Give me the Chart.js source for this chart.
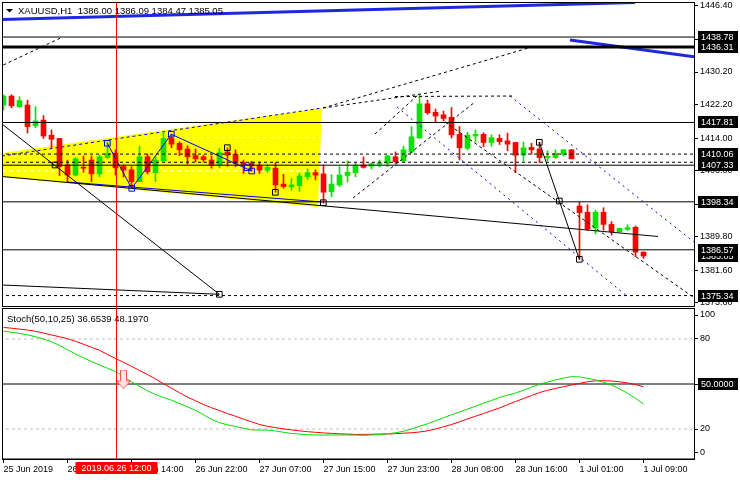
<!DOCTYPE html>
<html>
<head>
<meta charset="utf-8">
<script src="https://cdn.jsdelivr.net/npm/chart.js@4.4.1/dist/chart.umd.min.js"></script>
<style>
  html, body { margin: 0; padding: 0; background: #fff; }
  #wrap { position: relative; width: 740px; height: 480px; overflow: hidden; }
  canvas { position: absolute; left: 0; }
  #main { top: 0; }
  #stoch { top: 307px; }
</style>
</head>
<body>
<div id="wrap">
  <canvas id="main" width="740" height="308"></canvas>
  <canvas id="stoch" width="740" height="173"></canvas>
</div>
<script>
// XAUUSD H1, bar 0 = 25 Jun 20:00 ... bar 80 = 1 Jul 09:00
const opens  = [1422.1,1424.3,1421.7,1422.1,1417.0,1418.4,1414.7,1413.9,1407.4,1404.9,1406.8,1408.6,1405.2,1409.2,1410.3,1407.0,
                1406.2,1403.3,1409.4,1405.5,1408.4,1413.9,1412.7,1411.3,1409.7,1409.4,1408.6,1407.4,1410.6,1410.0,1408.0,1407.9,
                1407.2,1406.1,1406.6,1402.7,1402.0,1402.3,1404.5,1405.5,1405.2,1400.8,1402.5,1404.8,1405.5,1407.4,1407.1,1407.6,
                1407.8,1409.4,1408.4,1410.6,1414.0,1422.4,1420.3,1419.7,1419.1,1414.9,1411.5,1414.5,1414.9,1412.9,1413.9,1413.3,
                1412.9,1409.8,1411.7,1411.3,1409.2,1409.2,1410.0,1411.1,1397.3,1395.8,1391.9,1395.8,1392.8,1391.0,1391.6,1392.1,1386.00];
const highs  = [1424.6,1424.6,1424.1,1423.3,1421.7,1419.5,1416.0,1413.9,1408.6,1409.2,1409.6,1409.6,1409.8,1413.0,1411.1,1407.4,
                1407.0,1412.0,1410.1,1409.4,1415.2,1414.9,1413.1,1412.1,1411.3,1409.8,1409.6,1411.5,1411.6,1411.1,1408.6,1408.3,
                1408.1,1407.4,1408.0,1405.1,1404.1,1405.4,1406.4,1406.2,1407.4,1405.0,1407.0,1408.4,1407.8,1409.4,1407.9,1408.6,
                1409.8,1410.6,1412.0,1416.8,1424.6,1423.3,1421.1,1420.6,1421.5,1416.8,1415.4,1416.0,1415.3,1414.8,1414.8,1415.2,
                1413.0,1413.0,1412.7,1413.0,1410.9,1411.1,1411.2,1411.2,1398.2,1397.6,1396.3,1396.9,1393.5,1391.9,1392.7,1392.4,1386.09];
const lows   = [1420.9,1421.4,1421.5,1415.2,1416.5,1413.9,1411.6,1404.8,1403.3,1404.7,1405.6,1403.3,1404.5,1409.0,1404.9,1404.4,
                1401.8,1403.3,1405.2,1403.3,1408.4,1411.6,1409.7,1407.6,1408.1,1408.1,1406.6,1406.7,1407.1,1407.0,1405.3,1405.9,
                1405.3,1405.6,1400.7,1401.7,1401.2,1400.9,1403.8,1403.7,1398.0,1399.6,1402.1,1403.2,1404.5,1406.6,1406.4,1406.9,
                1407.0,1407.8,1408.2,1410.3,1414.0,1419.8,1418.0,1418.2,1414.0,1408.6,1411.1,1413.0,1411.9,1412.0,1412.4,1410.9,
                1405.5,1408.4,1410.0,1408.0,1408.4,1409.0,1409.6,1408.9,1384.2,1391.3,1390.5,1391.4,1390.2,1390.9,1391.3,1384.9,1384.47];
const closes = [1424.3,1421.9,1423.2,1416.8,1418.2,1414.5,1413.7,1407.0,1404.9,1408.9,1406.6,1405.2,1409.4,1410.3,1406.7,1406.1,
                1403.3,1409.4,1405.7,1408.6,1413.9,1412.5,1411.1,1409.4,1408.9,1408.7,1407.4,1410.4,1409.8,1407.8,1407.4,1407.2,
                1406.1,1406.8,1402.5,1402.1,1402.5,1404.7,1405.5,1404.9,1400.7,1402.7,1404.9,1405.6,1407.1,1406.8,1407.7,1407.9,
                1409.6,1408.2,1411.1,1414.3,1422.4,1420.2,1419.4,1418.8,1414.8,1411.6,1414.7,1414.9,1412.9,1414.1,1413.1,1412.5,
                1409.8,1411.6,1411.1,1409.2,1409.5,1410.25,1411.1,1408.9,1395.7,1391.7,1395.8,1392.8,1391.0,1391.8,1392.0,1386.0,1385.05];

// Stochastic(50,10,25): main (green) and signal (red)
const stochMain = [85.2,84.5,83.7,82.8,81.5,80,78.2,75.8,72.8,70,67.5,65,62.7,60.5,58.3,55,
                   51.5,48.5,45.5,43,41,39.2,37,34.8,32.5,29.5,26.5,24.2,22.8,21.7,20.5,19.4,
                   19.3,19.3,18.7,17.8,17,16.6,16.2,16,16,16,16,16,15.9,15.8,16,16.3,
                   16.8,17.5,18.5,20,21.8,23.5,25.5,27.5,29.5,31.3,33.3,35.2,37.2,39,41,42.6,
                   44,45.8,48,49.7,51.3,52.7,54,54.9,54.7,53.8,52.7,51.2,49.4,46.8,43.8,40.5,36.6539];
const stochSignal = [87.7,87.2,86.6,86,85.1,84,82.7,81.5,80.2,78.5,76.5,74.5,72.5,69.7,67,64.5,
                     61.8,59,56.3,53.4,50.2,47.2,44.2,41.3,38.8,36.3,34.2,32.3,30.3,28.5,26.6,24.8,
                     23,21.8,20.9,20.1,19.4,18.8,18.2,17.8,17.4,17.1,16.8,16.6,16.4,16.4,16.5,16.6,
                     16.7,16.9,17.2,17.5,18,18.8,20,21.5,23,24.8,26.7,28.5,30.3,32.2,34,36.2,
                     38.3,40.3,42.3,44.3,45.8,47,48.2,49.3,50.4,51.5,52.1,52.2,52,51.5,50.7,49.6,48.197];

const priceTicks = [1446.40,1438.20,1430.20,1422.20,1414.00,1406.00,1397.80,1389.80,1381.60,1373.60];
const priceBoxes = [1385.05,1438.78,1436.31,1417.81,1410.06,1407.33,1398.34,1375.34,1386.57];
const stochTicks = [100,80,50,20,0];
const xTickBars = [0,8,16,24,32,40,48,56,64,72,80];
const xTickLabels = ['25 Jun 2019','26 Jun 06:00','26 Jun 14:00','26 Jun 22:00','27 Jun 07:00','27 Jun 15:00',
                     '27 Jun 23:00','28 Jun 08:00','28 Jun 16:00','1 Jul 01:00','1 Jul 09:00'];
const cursorBar = 14;
const cursorLabel = '2019.06.26 12:00';
const signalArrow = [15, 53];

// drawn objects, as [bar, price]
const levelsThin = [1438.78, 1417.81, 1407.33, 1398.34, 1386.57];
const levelThick = 1436.31;
const levelsDashed = [1410.06, 1408.05, 1375.34];
const wedgeTop = [[-0.19,1443.09],[78.94,1447.26]];
const wedgeRight = [[70.81,1438.06],[86.31,1433.96]];
const trendLong = [[-0.19,1404.56],[81.81,1389.84]];
const trendDiag = [[-0.19,1417.44],[26.98,1375.65]];
const trendLow = [[-0.19,1377.93],[26.98,1375.65]];
const trendSteep = [[66.98,1412.95],[71.98,1384.24]];
const triangle = [[-12.9,1406.82],[39.81,1421.37],[39.31,1397.08],[-12.9,1406.82]];
const fibWhite = [[[15.8,1414.13],[39.56,1414.13]], [[-0.19,1405.91],[39.31,1405.91]]];
const blueEdgeTop = [[-0.19,1409.59],[39.81,1421.37]];
const blueEdgeLow = [[7.94,1403.21],[39.81,1398.30]];
const blueZig = [[12.98,1412.71],[16.03,1401.66],[20.98,1414.92],[31.03,1405.91]];
const dashedBlack = [
  [[-0.03,1431.92],[7.06,1438.47]],
  [[39.94,1421.37],[66.06,1436.34]],
  [[39.94,1421.37],[54.81,1425.54]],
  [[48.94,1424.19],[63.69,1424.31]],
  [[55.19,1417.93],[86.19,1374.99]],
  [[46.44,1414.99],[51.81,1424.56]],
  [[43.69,1399.28],[58.94,1422.85]]
];
const dottedBlue = [
  [[63.31,1424.31],[86.31,1388.49]],
  [[49.19,1421.62],[78.06,1374.99]]
];
const squaresBlack = [[6.44,1407.38],[26.98,1375.65],[39.98,1398.13],[33.98,1400.68],[27.98,1411.63],[66.98,1412.95],[69.48,1398.55],[71.98,1384.24]];
const squaresBlue = [[12.98,1412.71],[16.03,1401.66],[20.98,1414.92],[30.48,1406.72],[31.03,1405.91]];

const X_MIN = -0.1875, X_MAX = 86.3125;
const UP = '#00e600', DOWN = '#ff0000', BLUE = '#1e28dc';
const FONT = "'Liberation Sans', Arial, sans-serif";
Chart.defaults.font.family = FONT;
Chart.defaults.font.size = 9;
Chart.defaults.color = '#000';

function pts(a) { return a.map(p => ({x: p[0], y: p[1]})); }
function seg(a, color, width, dash, order) {
  return {type: 'line', data: pts(a), borderColor: color, borderWidth: width, borderDash: dash || [],
          pointRadius: 0, fill: false, tension: 0, order: order == null ? -1 : order};
}
function hline(p, color, width, dash, order) { return seg([[X_MIN - 1, p], [X_MAX + 1, p]], color, width, dash, order); }
// keep the plot area exactly where the layout puts it (no room for label overflow)
function noOverflow(s) { s.paddingTop = 0; s.paddingBottom = 0; s.paddingLeft = 0; s.paddingRight = 0; }

const isUp = closes.map((c, i) => c >= opens[i]);
const candleColors = isUp.map(u => u ? UP : DOWN);

const mainSets = [
  {type: 'line', data: pts(triangle), fill: 'shape', backgroundColor: '#ffff00', borderWidth: 0, pointRadius: 0, tension: 0, order: 30},
  ...fibWhite.map(a => seg(a, '#ffffff', 1, [4, 3], 25)),
  {type: 'bar', data: highs.map((h, i) => ({x: i, y: [lows[i], h]})), backgroundColor: candleColors,
   barThickness: 1, grouped: false, borderWidth: 0, minBarLength: 1, order: 2},
  {type: 'bar', data: opens.map((o, i) => ({x: i, y: [o, closes[i]]})), backgroundColor: candleColors,
   barThickness: 5, grouped: false, borderWidth: 0, minBarLength: 1, order: 1},
  ...levelsThin.map(p => hline(p, '#000', 1)),
  hline(levelThick, '#000', 3),
  ...levelsDashed.map(p => hline(p, '#000', 1, [3, 3])),
  seg(wedgeTop, BLUE, 3), seg(wedgeRight, BLUE, 3),
  seg(trendLong, '#000', 1), seg(trendDiag, '#000', 1), seg(trendLow, '#000', 1), seg(trendSteep, '#000', 1),
  seg(blueEdgeTop, '#0000ff', 1, [3, 3]), seg(blueEdgeLow, '#0000ff', 1), seg(blueZig, '#0000ff', 1),
  ...dashedBlack.map(a => seg(a, '#000', 1, [3, 3])),
  ...dottedBlue.map(a => seg(a, '#0000ff', 1, [2, 4])),
  {type: 'line', data: pts(squaresBlack), showLine: false, pointStyle: 'rect', pointRadius: 4,
   pointBorderColor: '#000', pointBackgroundColor: 'rgba(0,0,0,0)', pointBorderWidth: 1, order: -2},
  {type: 'line', data: pts(squaresBlue), showLine: false, pointStyle: 'rect', pointRadius: 4,
   pointBorderColor: '#0000ff', pointBackgroundColor: 'rgba(0,0,0,0)', pointBorderWidth: 1, order: -2}
];

function drawBox(ctx, x, y, w, txt, bg, fg, align) {
  ctx.fillStyle = bg;
  ctx.fillRect(x, Math.round(y) - 6, w, 12);
  ctx.fillStyle = fg;
  ctx.textBaseline = 'middle';
  ctx.textAlign = align || 'left';
  ctx.fillText(txt, align === 'center' ? x + w / 2 : x + 3, Math.round(y) + 0.5);
}

const mainDeco = {
  id: 'mainDeco',
  afterDraw(chart) {
    const {ctx, chartArea: a, scales} = chart;
    ctx.save();
    ctx.strokeStyle = '#000'; ctx.lineWidth = 1;
    ctx.strokeRect(a.left + 0.5, a.top + 0.5, a.right - a.left, a.bottom - a.top);
    const cx = Math.round(scales.x.getPixelForValue(cursorBar)) + 0.5;
    ctx.strokeStyle = '#ff0000';
    ctx.beginPath(); ctx.moveTo(cx, a.top); ctx.lineTo(cx, chart.height); ctx.stroke();
    // symbol title
    ctx.fillStyle = '#000';
    ctx.beginPath(); ctx.moveTo(6, 9); ctx.lineTo(13, 9); ctx.lineTo(9.5, 12.5); ctx.closePath(); ctx.fill();
    ctx.font = '9.5px ' + FONT;
    ctx.textBaseline = 'middle'; ctx.textAlign = 'left';
    ctx.fillText('XAUUSD,H1  ' + [opens[80], highs[80], lows[80], closes[80]].map(v => v.toFixed(2)).join(' '), 18, 11);
    ctx.font = '9px ' + FONT;
    priceBoxes.forEach(p => drawBox(ctx, 698, scales.y.getPixelForValue(p), 40, p.toFixed(2), '#000', '#fff'));
    ctx.restore();
  }
};

new Chart(document.getElementById('main'), {
  type: 'bar',
  data: {datasets: mainSets},
  options: {
    responsive: false, animation: false, events: [],
    layout: {autoPadding: false, padding: {left: 2, top: 2, right: 0, bottom: 2}},
    plugins: {legend: {display: false}, tooltip: {enabled: false}},
    scales: {
      x: {type: 'linear', min: X_MIN, max: X_MAX, offset: false, display: false},
      y: {type: 'linear', position: 'right', min: 1372.78, max: 1447.38,
          afterFit: s => { s.width = 46; noOverflow(s); },
          afterBuildTicks: s => { s.ticks = priceTicks.map(v => ({value: v})); },
          ticks: {callback: v => v.toFixed(2), padding: 2, autoSkip: false},
          grid: {drawOnChartArea: false, tickLength: 4, color: '#000'},
          border: {color: '#000'}}
    }
  },
  plugins: [mainDeco]
});

// hollow down arrow used as the signal marker
const arrowImg = document.createElement('canvas');
arrowImg.width = 15; arrowImg.height = 20;
(function () {
  const c = arrowImg.getContext('2d');
  c.beginPath();
  c.moveTo(4.5, 0.5); c.lineTo(10.5, 0.5); c.lineTo(10.5, 11.5); c.lineTo(14.5, 11.5);
  c.lineTo(7.5, 19); c.lineTo(0.5, 11.5); c.lineTo(4.5, 11.5); c.closePath();
  c.fillStyle = '#ffe4e4'; c.fill();
  c.strokeStyle = '#ff5050'; c.lineWidth = 1; c.stroke();
})();

const stochDeco = {
  id: 'stochDeco',
  afterDraw(chart) {
    const {ctx, chartArea: a, scales} = chart;
    ctx.save();
    ctx.strokeStyle = '#000'; ctx.lineWidth = 1;
    ctx.strokeRect(a.left + 0.5, a.top - 0.5, a.right - a.left, a.bottom - a.top + 0.5);
    const cx = Math.round(scales.x.getPixelForValue(cursorBar)) + 0.5;
    ctx.strokeStyle = '#ff0000';
    ctx.beginPath(); ctx.moveTo(cx, 0); ctx.lineTo(cx, a.bottom); ctx.stroke();
    ctx.fillStyle = '#000';
    ctx.font = '9.5px ' + FONT;
    ctx.textBaseline = 'middle'; ctx.textAlign = 'left';
    ctx.fillText('Stoch(50,10,25) ' + stochMain[80].toFixed(4) + ' ' + stochSignal[80].toFixed(4), 7, 12);
    ctx.font = '9px ' + FONT;
    drawBox(ctx, 698, scales.y.getPixelForValue(50), 40, '50.0000', '#000', '#fff');
    drawBox(ctx, cx - 41, a.bottom + 9, 82, cursorLabel, '#ff0000', '#fff', 'center');
    ctx.restore();
  }
};

new Chart(document.getElementById('stoch'), {
  type: 'line',
  data: {datasets: [
    hline(80, '#c0c0c0', 1, [3, 3], 5),
    hline(20, '#c0c0c0', 1, [3, 3], 5),
    hline(50, '#000', 1, [], 4),
    {data: stochSignal.map((v, i) => ({x: i, y: v})), borderColor: '#ff0000', borderWidth: 1, pointRadius: 0, tension: 0, order: 2},
    {data: stochMain.map((v, i) => ({x: i, y: v})), borderColor: '#00dd00', borderWidth: 1, pointRadius: 0, tension: 0, order: 1},
    {data: [{x: signalArrow[0], y: signalArrow[1]}], showLine: false, pointStyle: arrowImg, order: 0}
  ]},
  options: {
    responsive: false, animation: false, events: [],
    layout: {autoPadding: false, padding: {left: 2, top: 2, right: 0, bottom: 0}},
    plugins: {legend: {display: false}, tooltip: {enabled: false}},
    scales: {
      x: {type: 'linear', min: X_MIN, max: X_MAX, offset: false,
          afterFit: s => { s.height = 21; noOverflow(s); },
          afterBuildTicks: s => { s.ticks = xTickBars.map(v => ({value: v})); },
          ticks: {callback: v => xTickLabels[xTickBars.indexOf(v)], align: 'start', autoSkip: false, maxRotation: 0, padding: 1},
          grid: {drawOnChartArea: false, tickLength: 4, color: '#000'},
          border: {color: '#000'}},
      y: {type: 'linear', position: 'right', min: 0, max: 100,
          afterFit: s => { s.width = 46; noOverflow(s); },
          // MT4 nudges the 100 and 0 labels inside the pane
          afterBuildTicks: s => { s.ticks = stochTicks.map(v => ({value: v === 100 ? 96 : v === 0 ? 4.5 : v})); },
          ticks: {callback: v => String(stochTicks.find(t => Math.abs(t - v) < 6)), padding: 2, autoSkip: false},
          grid: {drawOnChartArea: false, tickLength: 4, color: '#000'},
          border: {color: '#000'}}
    }
  },
  plugins: [stochDeco]
});
</script>
</body>
</html>
